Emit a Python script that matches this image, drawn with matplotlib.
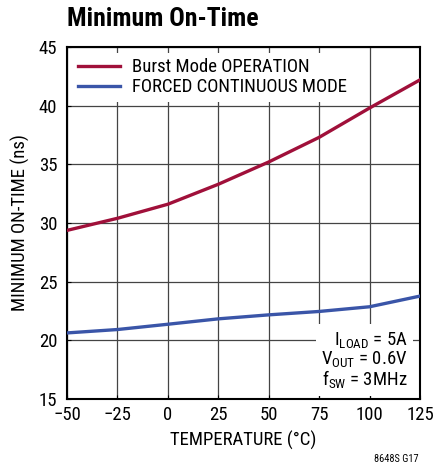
import matplotlib
matplotlib.use("Agg")
import matplotlib.pyplot as plt

temps = [-50, -25, 0, 25, 50, 75, 100, 125]
burst = [29.37, 30.4, 31.6, 33.3, 35.2, 37.3, 39.8, 42.2]
fcm = [20.63, 20.92, 21.37, 21.83, 22.17, 22.46, 22.86, 23.77]
xticks = [-50, -25, 0, 25, 50, 75, 100, 125]
yticks = [15, 20, 25, 30, 35, 40, 45]

FONT = ['Roboto Condensed', 'DejaVu Sans']
plt.rcParams['font.family'] = FONT
plt.rcParams['mathtext.fontset'] = 'custom'
plt.rcParams['mathtext.rm'] = 'Roboto Condensed'
plt.rcParams['mathtext.it'] = 'Roboto Condensed'

FS = 13.5
fig = plt.figure(figsize=(4.34, 4.71), dpi=100)
ax = fig.add_axes([0.1544, 0.1529, 0.8133, 0.7473])

ax.plot(temps, burst, color='#a0103a', lw=2.4, label='Burst Mode OPERATION', zorder=3)
ax.plot(temps, fcm, color='#3a55a8', lw=2.4, label='FORCED CONTINUOUS MODE', zorder=3)

ax.set_xlim(-50, 125)
ax.set_ylim(15, 45)
ax.set_xticks(xticks)
ax.set_yticks(yticks)
ax.set_xticklabels(['\u221250', '\u221225', '0', '25', '50', '75', '100', '125'])
ax.grid(True, color='#444444', lw=0.9, zorder=0)
ax.tick_params(direction='in', length=3, labelsize=FS, colors='black')
ax.tick_params(axis='x', pad=5)
ax.tick_params(axis='y', pad=7)
for s in ax.spines.values():
    s.set_linewidth(1.5)

ax.set_xlabel('TEMPERATURE (°C)', fontsize=FS, labelpad=5)
ax.set_ylabel('MINIMUM ON-TIME (ns)', fontsize=FS, labelpad=6)

leg = ax.legend(loc='upper left', fontsize=FS, frameon=True, handlelength=2.2,
                borderaxespad=0.3, labelspacing=0.1, fancybox=False, borderpad=0.3,
                handletextpad=0.65)
leg.get_frame().set_edgecolor('none')
leg.get_frame().set_facecolor('white')
leg.get_frame().set_alpha(1)

ax.text(0.965, 0.025,
        '$\\mathregular{I_{LOAD}}$ = 5A\n$\\mathregular{V_{OUT}}$ = 0.6V\n$\\mathregular{f_{SW}}$ = 3MHz',
        transform=ax.transAxes, ha='right', va='bottom', fontsize=FS, linespacing=0.95,
        bbox=dict(facecolor='white', edgecolor='none', pad=4), zorder=4)

fig.text(0.1544, 0.960, 'Minimum On-Time', fontsize=18.5, fontweight='bold', ha='left', va='center')
fig.text(0.965, 0.025, '8648S G17', fontsize=7.5, ha='right', va='center')

fig.savefig('out.png', dpi=100)
